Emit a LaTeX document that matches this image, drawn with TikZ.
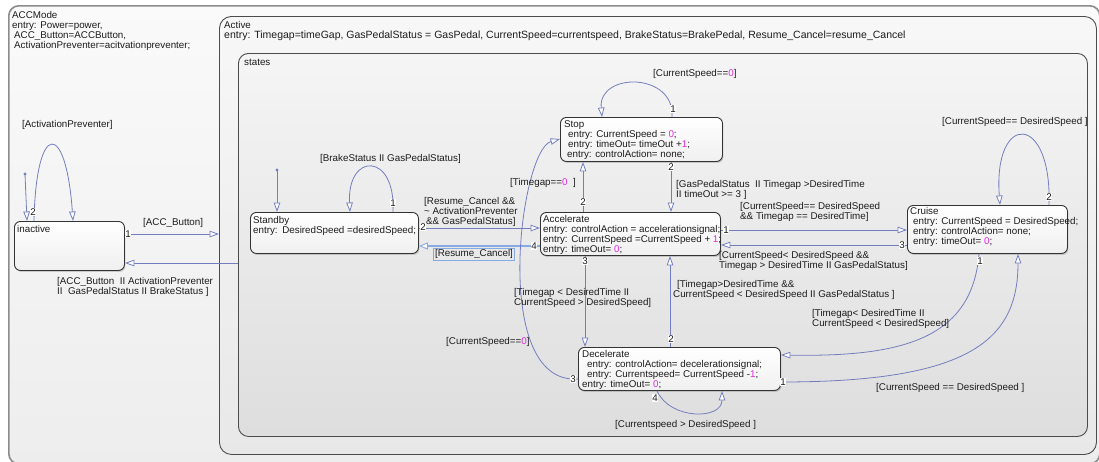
\documentclass[tikz,border=0pt]{standalone}
\usepackage{fontspec}
\setmainfont{Liberation Sans}
\usetikzlibrary{arrows.meta,shadows,calc}

\definecolor{trc}{RGB}{116,126,190}
\definecolor{hic}{RGB}{135,170,228}
\definecolor{num}{RGB}{225,40,225}
\definecolor{ink}{RGB}{28,28,28}
\newcommand{\nm}[1]{\textcolor{num}{#1}}
\newcommand{\fs}{\fontsize{9.8}{10}\selectfont}

\tikzset{
  container/.style={rounded corners=10pt, anchor=north west, inner sep=0pt},
  state/.style={draw=black!80, line width=0.9pt, rounded corners=6pt,
    anchor=north west, inner sep=0pt, top color=white, bottom color=black!6,
    drop shadow={opacity=0.35, shadow xshift=1pt, shadow yshift=-1.5pt}},
  lbl/.style={font=\fs, text=ink, inner sep=0pt, anchor=north west, align=left},
  nlbl/.style={font=\fs, text=ink, inner sep=0.6pt, fill=white},
  tr/.style={draw=trc, line width=0.8pt,
    -{Triangle[length=9.5pt, width=6.5pt, fill=white]}},
  trsel/.style={draw=hic, line width=2.6pt,
    -{Triangle[length=9pt, width=7pt, fill=white, line width=0.9pt]}},
  dot/.style={fill=trc},
}

\begin{document}
\begin{tikzpicture}[x=1pt, y=-1pt]
\useasboundingbox (0,0) rectangle (1099,461);
\fill[white] (0,0) rectangle (1099,461);

% ---- nested charts ----
\node[container, draw=black!45, line width=1.6pt, top color=black!2, bottom color=black!7,
      minimum width=1091pt, minimum height=458pt] (accmode) at (8,5) {};
\node[container, draw=black!70, line width=0.9pt, top color=black!3, bottom color=black!9,
      rounded corners=12pt, minimum width=877pt, minimum height=438pt] (active) at (219,16) {};
\node[container, draw=black!70, line width=0.9pt, top color=black!4, bottom color=black!13,
      minimum width=849pt, minimum height=383pt] (states) at (238,53) {};

\node[lbl] (accmodetxt) at (12,11) {ACCMode\\entry: Power=power,\\\hspace*{2pt}ACC\_Button=ACCButton,\\\hspace*{2pt}ActivationPreventer=acitvationpreventer;};
\node[lbl] (activetxt) at (224,21) {Active\\{\fontsize{10.5}{10}\selectfont entry: Timegap=timeGap, GasPedalStatus = GasPedal, CurrentSpeed=currentspeed, BrakeStatus=BrakePedal, Resume\_Cancel=resume\_Cancel}};
\node[lbl] (statestxt) at (244,59) {states};

% ---- states ----
\node[state, minimum width=110pt, minimum height=49pt] (inactive) at (14,221) {};
\node[state, minimum width=168pt, minimum height=41pt] (standby) at (250,212) {};
\node[state, minimum width=180pt, minimum height=43pt] (accelerate) at (540,212) {};
\node[state, minimum width=162pt, minimum height=44pt] (stop) at (560,117) {};
\node[state, minimum width=160pt, minimum height=48pt] (cruise) at (907,205) {};
\node[state, minimum width=202pt, minimum height=43pt] (decelerate) at (578,347) {};

\node[lbl] (inactivetxt) at ([xshift=3pt,yshift=-4pt]inactive.north west) {inactive};
\node[lbl] (standbytxt) at ([xshift=3pt,yshift=-4pt]standby.north west) {Standby\\entry: \hspace{1pt}DesiredSpeed =desiredSpeed;};
\node[lbl] (acceleratetxt) at ([xshift=3pt,yshift=-3pt]accelerate.north west) {Accelerate\\entry: controlAction = accelerationsignal;\\entry: CurrentSpeed =CurrentSpeed + \nm{1};\\entry: timeOut= \nm{0};};
\node[lbl] (stoptxt) at ([xshift=4pt,yshift=-3pt]stop.north west) {Stop\\\hspace*{4pt}entry: CurrentSpeed = \nm{0};\\\hspace*{4pt}entry: timeOut= timeOut +\nm{1};\\\hspace*{3pt}entry: controlAction= none;};
\node[lbl] (cruisetxt) at ([xshift=3pt,yshift=-2pt]cruise.north west) {Cruise\\\hspace*{3pt}entry: CurrentSpeed = DesiredSpeed;\\\hspace*{3pt}entry: controlAction= none;\\\hspace*{3pt}entry: timeOut= \nm{0};};
\node[lbl] (deceleratetxt) at ([xshift=4pt,yshift=-3pt]decelerate.north west) {Decelerate\\\hspace*{5pt}entry: controlAction= decelerationsignal;\\\hspace*{5pt}entry: Currentspeed= CurrentSpeed -\nm{1};\\entry: timeOut= \nm{0};};

% ---- transitions ----
% default transition into inactive
\coordinate (inidot) at (25,174);
\fill[dot] (inidot) circle (1.6pt);
\draw[tr] (inidot) -- ([xshift=13pt]inactive.north west);
% inactive self loop
\draw[tr] ([xshift=20pt]inactive.north west) .. controls (36,120) and (66,120) .. ([xshift=59pt]inactive.north west);
% inactive -> Active
\coordinate (accs) at ([yshift=-13pt]inactive.north east);
\draw[tr] (accs) -- (accs -| active.west);
% states -> inactive
\coordinate (backe) at ([yshift=-42pt]inactive.north east);
\draw[tr] (backe -| states.west) -- (backe);

% default transition into Standby
\coordinate (sbdot) at (277,170);
\fill[dot] (sbdot) circle (1.6pt);
\draw[tr] (sbdot) -- (sbdot |- standby.north);
% Standby self loop
\draw[tr] ([xshift=143pt]standby.north west) .. controls (396,152) and (347,152) .. ([xshift=100pt]standby.north west);
% Standby -> Accelerate
\coordinate (sb2) at ([yshift=-16pt]standby.north east);
\draw[tr] (sb2) -- (sb2 -| accelerate.west);
% Accelerate -> Standby (selected)
\coordinate (ac4) at ([yshift=-34pt]accelerate.north west);
\draw[trsel] (ac4) -- (ac4 -| standby.east);

% Accelerate -> Stop
\coordinate (ac2) at ([xshift=43pt]accelerate.north west);
\draw[tr] (ac2) -- (ac2 |- stop.south);
% Stop -> Accelerate
\coordinate (st2) at ([xshift=111pt]stop.south west);
\draw[tr] (st2) -- (st2 |- accelerate.north);
% Stop self loop
\draw[tr] ([xshift=112pt]stop.north west) .. controls (675,72) and (598,72) .. ([xshift=42pt]stop.north west);

% Accelerate -> Cruise
\coordinate (ac1) at ([yshift=-18pt]accelerate.north east);
\draw[tr] (ac1) -- (ac1 -| cruise.west);
% Cruise -> Accelerate
\coordinate (cr3) at ([yshift=-40pt]cruise.north west);
\draw[tr] (cr3) -- (cr3 -| accelerate.east);
% Cruise self loop
\draw[tr] ([xshift=142pt]cruise.north west) .. controls (1052,112) and (993,112) .. ([xshift=93pt]cruise.north west);
% Cruise -> Decelerate
\draw[tr] ([xshift=72pt]cruise.south west) .. controls (972,340) and (900,357) .. ([yshift=-8pt]decelerate.north east);
% Decelerate -> Cruise
\draw[tr] ([yshift=-35pt]decelerate.north east) .. controls (970,382) and (1018,340) .. ([xshift=111pt]cruise.south west);

% Accelerate -> Decelerate
\coordinate (ac3) at ([xshift=45pt]accelerate.south west);
\draw[tr] (ac3) -- (ac3 |- decelerate.north);
% Decelerate -> Accelerate
\coordinate (de2) at ([xshift=92pt]decelerate.north west);
\draw[tr] (de2) -- (de2 |- accelerate.south);
% Decelerate self loop
\draw[tr] ([xshift=79pt]decelerate.south west) .. controls (670,420) and (722,420) .. ([xshift=144pt]decelerate.south west);
% Decelerate -> Stop
\draw[tr] ([yshift=-32pt]decelerate.north west) .. controls (490,385) and (520,150) .. ([yshift=-22pt]stop.north west);

% ---- transition labels ----
\node[lbl] (l_actprev) at (22,120) {[ActivationPreventer]};
\node[lbl] (l_accbtn) at (143,218) {[ACC\_Button]};
\node[lbl] (l_back) at (57,277) {[ACC\_Button \ II ActivationPreventer\\II \ GasPedalStatus II BrakeStatus ]};
\node[lbl] (l_brake) at (320,154) {[BrakeStatus II GasPedalStatus]};
\node[lbl] (l_resume) at (424,197) {[Resume\_Cancel \&\&\\\textasciitilde{} ActivationPreventer\\\hspace*{2pt}\&\& GasPedalStatus]};
\node[font=\fs, text=ink, draw=hic, line width=0.6pt, inner sep=1.5pt] (l_resume2) at (474,254) {[Resume\_Cancel]};
\node[lbl] (l_tg0) at (510,178) {[Timegap==\nm{0} \ ]};
\node[lbl] (l_cs0top) at (653,69) {[CurrentSpeed==\nm{0}]};
\node[lbl] (l_gas) at (676,180) {[GasPedalStatus \ II Timegap >DesiredTime\\II timeOut >= 3 ]};
\node[lbl] (l_cseq) at (740,202) {[CurrentSpeed== DesiredSpeed\\\&\& Timegap == DesiredTime]};
\node[lbl] (l_cslt) at (719,251) {[CurrentSpeed< DesiredSpeed \&\&\\Timegap > DesiredTime II GasPedalStatus]};
\node[lbl] (l_tglt) at (514,288) {[Timegap < DesiredTime II\\CurrentSpeed > DesiredSpeed]};
\node[lbl] (l_tggt) at (673,280) {\hspace*{4pt}[Timegap>DesiredTime \&\&\\CurrentSpeed < DesiredSpeed II GasPedalStatus ]};
\node[lbl] (l_cs0) at (446,337) {[CurrentSpeed==\nm{0}]};
\node[lbl] (l_csgt) at (615,420) {[Currentspeed > DesiredSpeed ]};
\node[lbl] (l_tglt2) at (812,309) {[Timegap< DesiredTime II\\CurrentSpeed < DesiredSpeed]};
\node[lbl] (l_cseq2) at (876,383) {[CurrentSpeed == DesiredSpeed ]};
\node[lbl] (l_cseq3) at (942,117) {[CurrentSpeed== DesiredSpeed ]};

% ---- execution order numbers ----
\node[nlbl] (n_ina2) at (33,212) {2};
\node[nlbl] (n_ina1) at (128,234) {1};
\node[nlbl] (n_sb1) at (393,203) {1};
\node[nlbl] (n_sb2) at (423,227) {2};
\node[nlbl] (n_ac4) at (534,246) {4};
\node[nlbl] (n_st1) at (673,109) {1};
\node[nlbl] (n_ac2) at (583,202) {2};
\node[nlbl] (n_st2) at (671,167) {2};
\node[nlbl] (n_ac1) at (726,230) {1};
\node[nlbl] (n_cr3) at (902,245) {3};
\node[nlbl] (n_ac3) at (585,261) {3};
\node[nlbl] (n_de2) at (671,339) {2};
\node[nlbl] (n_de3) at (573,379) {3};
\node[nlbl] (n_de4) at (655,398) {4};
\node[nlbl] (n_cr1) at (980,261) {1};
\node[nlbl] (n_de1) at (783,382) {1};
\node[nlbl] (n_cr2) at (1049,197) {2};
\end{tikzpicture}
\end{document}
